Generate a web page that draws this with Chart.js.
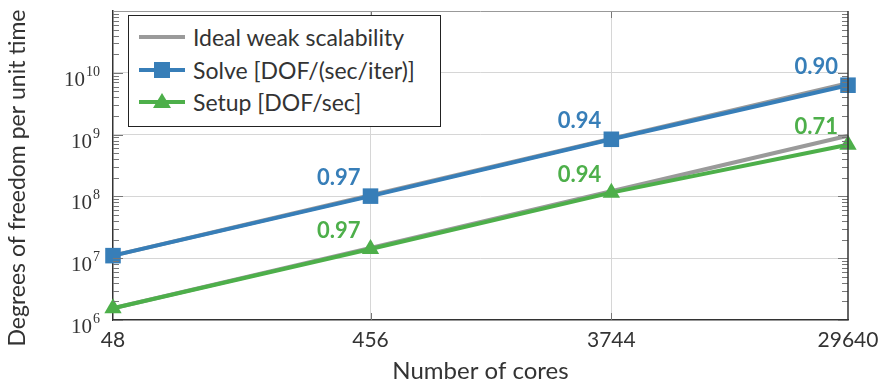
<!DOCTYPE html>
<html>
<head>
<meta charset="utf-8">
<script src="https://cdn.jsdelivr.net/npm/chart.js@4/dist/chart.umd.min.js"></script>
<style>
  html, body { margin: 0; background: #fff; }
  #wrap { position: relative; width: 879px; height: 383px; }
  #legend {
    position: absolute; left: 128px; top: 15px; width: 311px; height: 105px;
    border: 1.5px solid #222; background: #fff;
    font: 23px Lato, sans-serif; color: #333;
    padding-top: 5px; box-sizing: content-box;
  }
  #legend .row { display: flex; align-items: center; height: 32.5px; }
  #legend svg { margin-left: 10px; margin-right: 8px; }
</style>
</head>
<body>
<div id="wrap">
  <canvas id="c" width="879" height="383"></canvas>
  <div id="legend"></div>
</div>
<script>
// datos
const cores = [48, 456, 3744, 29640];
const idealSolve = [1.1e7, 1.045e8, 8.58e8, 6.79e9];
const idealSetup = [1.55e6, 1.47e7, 1.21e8, 9.57e8];
const solve = [1.1e7, 1.01e8, 8.4e8, 6.3e9];
const setup = [1.55e6, 1.41e7, 1.15e8, 6.85e8];
const solveEff = ["", "0.97", "0.94", "0.90"];
const setupEff = ["", "0.97", "0.94", "0.71"];
const yDecades = [6, 7, 8, 9, 10];

const BLUE = "#377eb8", GREEN = "#4daf4a", GRAY = "#9a9a9a";
const SANS = "Lato, sans-serif";
const Y_TITLE = "Degrees of freedom per unit time";

const pts = ys => cores.map((c, i) => ({ x: c, y: ys[i] }));

// leyenda dentro del área del gráfico
const legendItems = [
  { label: "Ideal weak scalability", color: GRAY, marker: "" },
  { label: "Solve [DOF/(sec/iter)]", color: BLUE, marker: "rect" },
  { label: "Setup [DOF/sec]", color: GREEN, marker: "tri" },
];
document.getElementById("legend").innerHTML = legendItems.map(it => {
  let m = "";
  if (it.marker === "rect") m = `<rect x="15" y="4" width="16" height="16" fill="${it.color}"/>`;
  if (it.marker === "tri") m = `<polygon points="23,3 32,18 14,18" fill="${it.color}"/>`;
  return `<div class="row"><svg width="46" height="24"><line x1="0" y1="12" x2="46" y2="12" stroke="${it.color}" stroke-width="4"/>${m}</svg>${it.label}</div>`;
}).join("");

// marcas menores, bordes, etiquetas 10^n y título del eje y
const framePlugin = {
  id: "frame",
  afterDraw(chart) {
    const { ctx, chartArea: a, scales } = chart;
    const y = scales.y, x = scales.x;
    ctx.save();
    ctx.lineWidth = 1;
    ctx.strokeStyle = "#777";
    y.ticks.forEach(t => {
      const py = Math.round(y.getPixelForValue(t.value)) + 0.5;
      const major = Math.abs(Math.log10(t.value) % 1) < 1e-9;
      const len = major ? 10 : 6;
      ctx.beginPath();
      ctx.moveTo(a.left, py); ctx.lineTo(a.left + len, py);
      ctx.moveTo(a.right, py); ctx.lineTo(a.right - len, py);
      ctx.stroke();
    });
    cores.slice(1, -1).forEach(c => {
      const px = Math.round(x.getPixelForValue(c)) + 0.5;
      ctx.beginPath();
      ctx.moveTo(px, a.bottom); ctx.lineTo(px, a.bottom - 7);
      ctx.moveTo(px, a.top); ctx.lineTo(px, a.top + 7);
      ctx.stroke();
    });
    // borde superior y derecho
    ctx.strokeStyle = "#999";
    ctx.beginPath(); ctx.moveTo(a.left, a.top + 0.5); ctx.lineTo(a.right, a.top + 0.5); ctx.stroke();
    ctx.strokeStyle = "#333"; ctx.lineWidth = 1.5;
    ctx.beginPath(); ctx.moveTo(a.right, a.top); ctx.lineTo(a.right, a.bottom); ctx.stroke();

    // etiquetas del eje y
    ctx.fillStyle = "#333";
    ctx.textBaseline = "alphabetic";
    yDecades.forEach(d => {
      const py = y.getPixelForValue(Math.pow(10, d));
      const exp = String(d);
      ctx.font = "14px 'Liberation Serif', serif";
      const ew = ctx.measureText(exp).width;
      ctx.textAlign = "right";
      ctx.fillText(exp, 100, py + 3);
      ctx.font = "21px 'Liberation Serif', serif";
      ctx.fillText("10", 100 - ew - 1, py + 13);
    });

    // título del eje y
    ctx.translate(25, 178);
    ctx.rotate(-Math.PI / 2);
    ctx.textAlign = "center";
    ctx.font = "23px " + SANS;
    ctx.fillText(Y_TITLE, 0, 0);
    ctx.restore();
  },
  afterDatasetsDraw(chart) {
    const { ctx } = chart;
    ctx.save();
    ctx.font = "bold 22px " + SANS;
    ctx.textAlign = "right";
    ctx.textBaseline = "bottom";
    [[1, solveEff, BLUE], [2, setupEff, GREEN]].forEach(([idx, labels, col]) => {
      const meta = chart.getDatasetMeta(idx);
      ctx.fillStyle = col;
      meta.data.forEach((p, i) => {
        if (labels[i]) ctx.fillText(labels[i], p.x - 10, p.y - 7);
      });
    });
    ctx.restore();
  }
};

const line = (label, data, color, extra) => Object.assign({
  label, data, borderColor: color, backgroundColor: color,
  borderWidth: 4, pointRadius: 0, tension: 0, clip: false,
}, extra);

new Chart(document.getElementById("c").getContext("2d"), {
  type: "line",
  data: {
    datasets: [
      line("Ideal weak scalability", pts(idealSolve), GRAY, { order: 3 }),
      line("Solve [DOF/(sec/iter)]", pts(solve), BLUE, { order: 1, pointStyle: "rect", pointRadius: 11, pointBorderWidth: 0 }),
      line("Setup [DOF/sec]", pts(setup), GREEN, { order: 1, pointStyle: "triangle", pointRadius: 10, pointBorderWidth: 0 }),
      line("Ideal setup", pts(idealSetup), GRAY, { order: 3 }),
    ],
  },
  options: {
    responsive: false,
    animation: false,
    layout: { padding: { top: 8, right: 31, left: 0, bottom: 0 } },
    plugins: { legend: { display: false }, tooltip: { enabled: false } },
    scales: {
      x: {
        type: "logarithmic",
        min: 48, max: 29640,
        afterBuildTicks: s => { s.ticks = cores.map(v => ({ value: v })); },
        afterFit: s => { s.height = 63; s.paddingLeft = 0; s.paddingRight = 0; },
        ticks: {
          autoSkip: false, maxRotation: 0, padding: 8,
          color: "#333", font: { family: SANS, size: 21 },
          callback: v => String(v),
        },
        grid: {
          drawTicks: false,
          color: c => (c.tick && c.tick.value > 48 && c.tick.value < 29640) ? "#d6d6d6" : "rgba(0,0,0,0)",
        },
        border: { display: true, color: "#333", width: 1.5 },
        title: {
          display: true, text: "Number of cores", color: "#333",
          font: { family: SANS, size: 24, lineHeight: 1 }, padding: { top: 0, bottom: 0 },
        },
      },
      y: {
        type: "logarithmic",
        min: 1e6, max: 1e11,
        afterBuildTicks: s => {
          const t = [];
          yDecades.forEach(d => { for (let m = 1; m < 10; m++) t.push({ value: m * Math.pow(10, d) }); });
          t.push({ value: 1e11 });
          s.ticks = t;
        },
        afterFit: s => { s.width = 113; s.paddingTop = 0; s.paddingBottom = 0; },
        ticks: { display: false },
        grid: {
          drawTicks: false,
          color: c => {
            const v = c.tick ? c.tick.value : 0;
            const l = Math.log10(v);
            return (Math.abs(l - Math.round(l)) < 1e-9 && l > 6 && l < 11) ? "#d6d6d6" : "rgba(0,0,0,0)";
          },
        },
        border: { display: true, color: "#333", width: 1.5 },
        title: { display: false },
      },
    },
  },
  plugins: [framePlugin],
});
</script>
</body>
</html>
